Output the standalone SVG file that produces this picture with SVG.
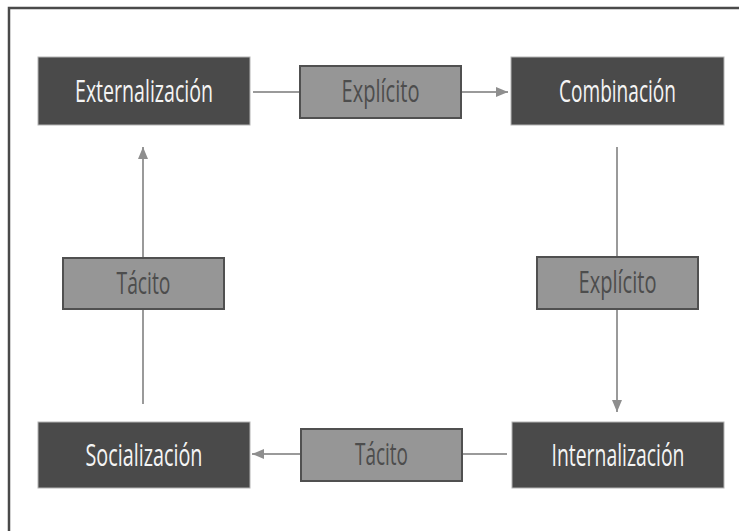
<svg xmlns="http://www.w3.org/2000/svg" width="739" height="531" viewBox="0 0 739 531">
<defs>
<style>
.node rect{fill:#4a4a4a;stroke:#b4b4b4;stroke-width:1}
.node text{fill:#f4f4f4;font-family:"Open Sans","Liberation Sans",sans-serif;font-size:31px;text-anchor:middle}
.lbl rect{fill:#969696;stroke:#505050;stroke-width:2}
.lbl text{fill:#4d4d4d;font-family:"Open Sans","Liberation Sans",sans-serif;font-size:31px;text-anchor:middle}
.edge{stroke:#9a9a9a;stroke-width:2;fill:none}
</style>
<marker id="ah" viewBox="0 0 12 10" refX="12" refY="5" markerWidth="12" markerHeight="10" markerUnits="userSpaceOnUse" orient="auto">
<path d="M0,0 L12,5 L0,10 Z" fill="#8e8e8e"/>
</marker>
</defs>
<rect width="739" height="531" fill="#ffffff"/>
<path d="M9,531 V8 H739" fill="none" stroke="#4a4a4a" stroke-width="2.5"/>
<g id="connectors">
<path class="edge" d="M253,92 H300 M461,92 H508" marker-end="url(#ah)"/>
<path class="edge" d="M617,147 V257 M617,309 V412" marker-end="url(#ah)"/>
<path class="edge" d="M507,454 H462 M301,454 H252" marker-end="url(#ah)"/>
<path class="edge" d="M143,404 V309 M143,258 V147" marker-end="url(#ah)"/>
</g>
<g id="lbl-top" class="lbl"><rect x="300" y="66" width="161" height="52"/><text x="380.5" y="102" textLength="78" lengthAdjust="spacingAndGlyphs">Explícito</text></g>
<g id="lbl-right" class="lbl"><rect x="537" y="257" width="161" height="52"/><text x="617.5" y="293" textLength="78" lengthAdjust="spacingAndGlyphs">Explícito</text></g>
<g id="lbl-bottom" class="lbl"><rect x="301" y="429" width="161" height="52"/><text x="381.5" y="465" textLength="53" lengthAdjust="spacingAndGlyphs">Tácito</text></g>
<g id="lbl-left" class="lbl"><rect x="63" y="258" width="161" height="51"/><text x="143.5" y="294" textLength="54" lengthAdjust="spacingAndGlyphs">Tácito</text></g>
<g id="externalizacion" class="node"><rect x="38" y="57" width="212" height="68"/><text x="144" y="102" textLength="138" lengthAdjust="spacingAndGlyphs">Externalización</text></g>
<g id="combinacion" class="node"><rect x="511" y="57" width="213" height="68"/><text x="617.5" y="102" textLength="117" lengthAdjust="spacingAndGlyphs">Combinación</text></g>
<g id="internalizacion" class="node"><rect x="512" y="422" width="212" height="66"/><text x="618" y="466" textLength="133" lengthAdjust="spacingAndGlyphs">Internalización</text></g>
<g id="socializacion" class="node"><rect x="38" y="422" width="212" height="66"/><text x="144" y="466" textLength="117" lengthAdjust="spacingAndGlyphs">Socialización</text></g>
</svg>
